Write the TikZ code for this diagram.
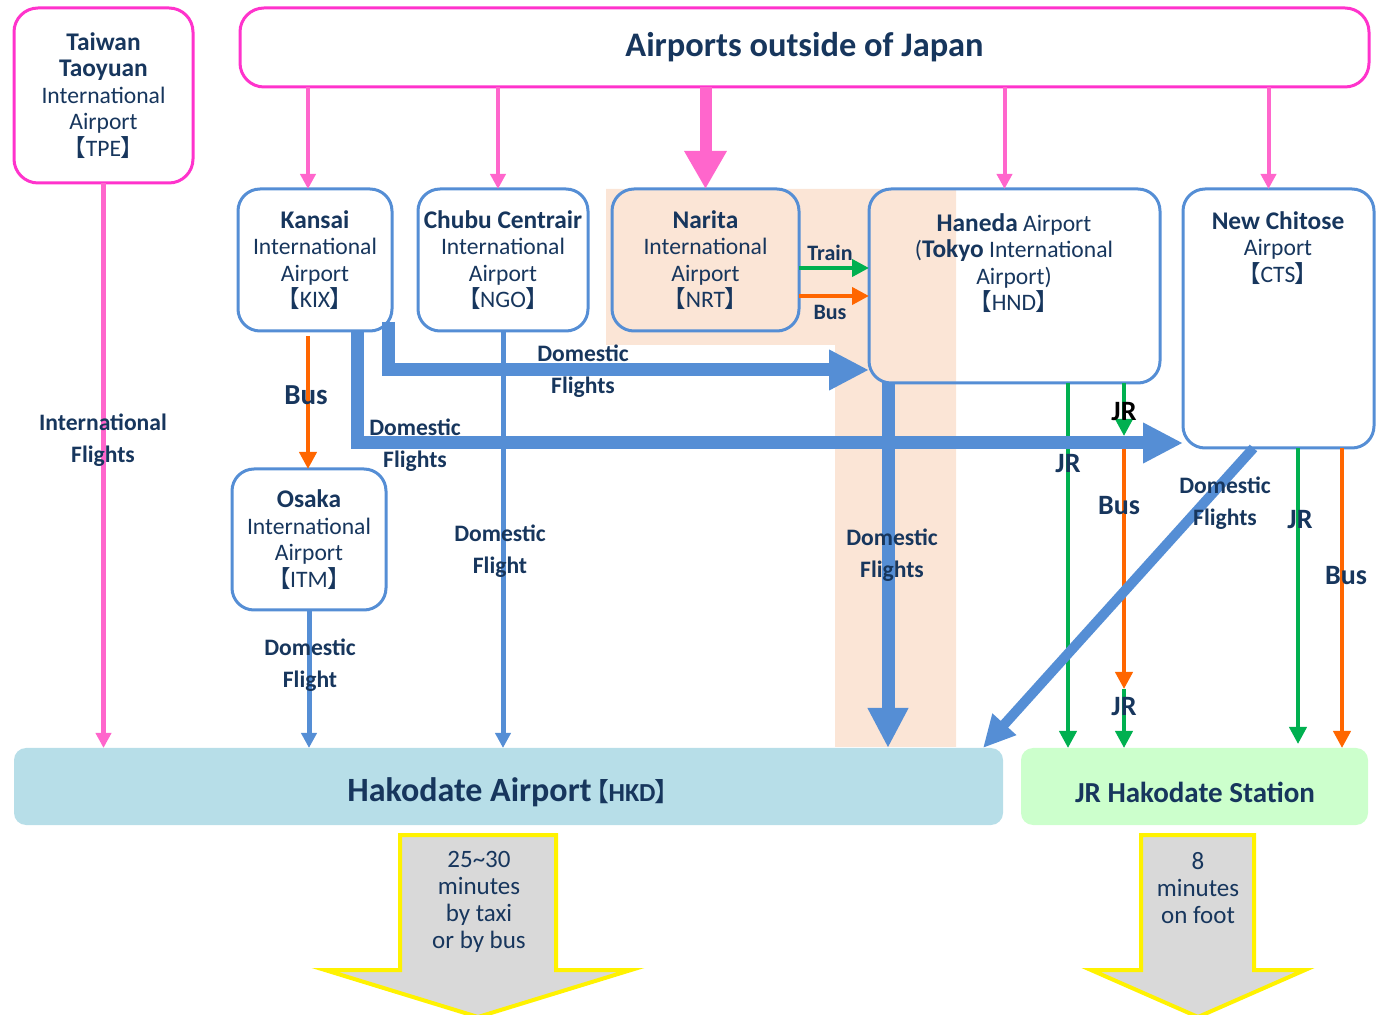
\documentclass[tikz,border=0pt]{standalone}
\usepackage{fontspec}
\setmainfont{Carlito}
\newfontfamily\cjkfont[RawFeature=+palt]{Noto Sans CJK JP}
\usetikzlibrary{arrows.meta,calc}
\definecolor{navy}{RGB}{23,54,93}
\definecolor{pinkline}{RGB}{255,51,204}
\definecolor{pinkarr}{RGB}{255,102,204}
\definecolor{bluel}{RGB}{85,142,213}
\definecolor{greenl}{RGB}{0,176,80}
\definecolor{orangel}{RGB}{255,102,0}
\definecolor{peach}{RGB}{251,229,214}
\definecolor{hkdfill}{RGB}{183,222,232}
\definecolor{jrfill}{RGB}{204,255,204}
\definecolor{grayfill}{RGB}{217,217,217}
\newcommand{\jlb}{{\cjkfont 【}}
\newcommand{\jrb}{{\cjkfont 】}}
\newcommand{\nm}[1]{{\fontsize{12.7}{13.25}\selectfont\bfseries #1}}
\newcommand{\boxfs}{\fontsize{11.8}{13.25}\selectfont}
\newcommand{\labfs}{\fontsize{11.8}{16}\selectfont\bfseries}
\newcommand{\bigfs}{\fontsize{14}{16}\selectfont\bfseries}
\begin{document}
\begin{tikzpicture}[x=0.5pt,y=-0.5pt,
 pinkbox/.style={draw=pinkline, line width=1.5pt, rounded corners=12pt, fill=white, inner sep=0pt, outer sep=0pt, align=center, text=navy, font=\boxfs},
 bluebox/.style={draw=bluel, line width=1.5pt, rounded corners=11pt, fill=white, inner sep=0pt, outer sep=0pt, align=center, text=navy, font=\boxfs},
 txt/.style={align=center, text=navy, font=\boxfs, inner sep=0pt},
 dest/.style={rounded corners=6pt, inner sep=0pt, outer sep=0pt, text=navy},
 lab/.style={text=navy, font=\labfs, align=center, inner sep=0pt},
 biglab/.style={text=navy, font=\bigfs, inner sep=0pt},
 pinkarrow/.style={draw=pinkarr, line width=2pt, -{Triangle[width=7.5pt,length=7.5pt]}},
 thinblue/.style={draw=bluel, line width=2.5pt, -{Triangle[width=7.5pt,length=7.5pt]}},
 thickblue/.style={draw=bluel, line width=6.5pt, line join=miter, -{Triangle[width=19pt,length=20pt]}},
 greenarrow/.style={draw=greenl, line width=2pt, -{Triangle[width=8.5pt,length=8.5pt]}},
 orangearrow/.style={draw=orangel, line width=2pt, -{Triangle[width=8.5pt,length=8.5pt]}},
 walk/.style={draw=yellow, fill=grayfill, line width=2pt, line join=miter},
 walktxt/.style={align=center, text=navy, font=\fontsize{12.5}{13.5}\selectfont, inner sep=0pt}
]
\useasboundingbox (0,0) rectangle (1382,1015);

% peach background
\fill[peach] (606,189) -- (956,189) -- (956,747) -- (835,747) -- (835,345) -- (606,345) -- cycle;

% boxes
\node[pinkbox, minimum width=89.5pt, minimum height=87.5pt] (tpe) at (103.5,95.5)
 {\nm{Taiwan}\\\nm{Taoyuan}\\International\\Airport\\\jlb TPE\jrb};
\node[pinkbox, minimum width=564.5pt, minimum height=39.5pt, font=\fontsize{17.2}{20}\selectfont\bfseries] (title) at (804.5,47.5)
 {\raisebox{1pt}{Airports outside of Japan}};
\node[bluebox, minimum width=77pt, minimum height=71pt] (kix) at (315,260)
 {\nm{Kansai}\\International\\Airport\\\jlb KIX\jrb};
\node[bluebox, minimum width=85pt, minimum height=71pt] (ngo) at (503,260)
 {\nm{Chubu Centrair}\\International\\Airport\\\jlb NGO\jrb};
\node[bluebox, fill=peach, minimum width=93.5pt, minimum height=71pt] (nrt) at (705.5,260)
 {\nm{Narita}\\International\\Airport\\\jlb NRT\jrb};
\node[bluebox, fill=none, minimum width=145.5pt, minimum height=97pt] (hnd) at (1014.5,286) {};
\node[txt] (hndt) at (1014,263) {\nm{Haneda} Airport\\(\nm{Tokyo} International\\Airport)\\\jlb HND\jrb};
\node[bluebox, minimum width=95.5pt, minimum height=129.5pt] (cts) at (1278.5,318.5) {};
\node[txt] (ctst) at (1278,248) {\nm{New Chitose}\\Airport\\\jlb CTS\jrb};
\node[bluebox, minimum width=77pt, minimum height=70.5pt] (itm) at (309,539.5)
 {\nm{Osaka}\\International\\Airport\\\jlb ITM\jrb};
\node[dest, fill=hkdfill, minimum width=494.5pt, minimum height=38.5pt] (hkd) at (508.5,786.5) {};
\node[inner sep=0pt, text=navy] (hkdt) at (508,792)
 {\textbf{\fontsize{17}{20}\selectfont Hakodate Airport}\hspace{2pt}{\fontsize{13}{14}\selectfont\jlb\textbf{HKD}\jrb}};
\node[dest, fill=jrfill, minimum width=173.5pt, minimum height=38.5pt] (jrs) at (1194.5,786.5) {};
\node[inner sep=0pt, text=navy, font=\fontsize{14.5}{17}\selectfont\bfseries] (jrst) at (1195,792) {JR Hakodate Station};

% coordinates
\coordinate (kixin) at ($(kix.north)+(-7,0)$);
\coordinate (ngoin) at ($(ngo.north)+(-5,0)$);
\coordinate (hndin) at ($(hnd.north)+(-10,0)$);
\coordinate (ctsin) at ($(cts.north)+(-10,0)$);
\coordinate (kixbus) at ($(kix.south)+(-7,5)$);
\coordinate (k1s) at ($(kix.south east)+(-4,-9)$);
\coordinate (k2s) at ($(kix.south)+(42,0)$);
\coordinate (hndw) at ($(hnd.south west)+(0,-13)$);
\coordinate (ctsw) at ($(cts.south west)+(0,-5)$);
\coordinate (hndd) at ($(hnd.south west)+(19,0)$);
\coordinate (ctsd) at ($(cts.south)+(-25,0)$);
\coordinate (hkdne) at ($(hkd.north east)+(-20,0)$);
\coordinate (hjr1) at ($(hnd.south)+(53.5,0)$);
\coordinate (hjr2) at ($(hnd.south)+(109.5,0)$);
\coordinate (jA) at ($(hjr2 |- ctsw)+(0,-7)$);
\coordinate (jA2) at ($(hjr2 |- ctsw)+(0,4)$);
\coordinate (jB) at (1124,689);
\coordinate (cjr) at ($(cts.south)+(19.5,0)$);
\coordinate (cbus) at ($(cts.south)+(63.5,0)$);
\coordinate (ntr) at ($(nrt.east)+(0,8)$);
\coordinate (nbs) at ($(nrt.east)+(0,36)$);

% pink arrows
\draw[pinkarrow] (title.south -| kixin) -- (kixin);
\draw[pinkarrow] (title.south -| ngoin) -- (ngoin);
\draw[pinkarrow] (title.south -| hndin) -- (hndin);
\draw[pinkarrow] (title.south -| ctsin) -- (ctsin);
\draw[draw=pinkarr, line width=6pt, -{Triangle[width=20pt,length=19pt]}] (title.south -| nrt.north) -- (nrt.north);
\draw[pinkarrow, line width=2.5pt] (tpe.south) -- (tpe.south |- hkd.north);

% bus Kansai -> Osaka
\draw[orangearrow] (kixbus) -- (kixbus |- itm.north);

% thin blue
\draw[thinblue] (itm.south) -- (itm.south |- hkd.north);
\draw[thinblue] (ngo.south) -- (ngo.south |- hkd.north);

% Narita -> Haneda
\draw[greenarrow] (ntr) -- (ntr -| hnd.west);
\draw[orangearrow] (nbs) -- (nbs -| hnd.west);

% Haneda ground
\draw[greenarrow] (hjr1) -- (hjr1 |- jrs.north);
\draw[greenarrow] (hjr2) -- (jA);
\draw[orangearrow] (jA2) -- (jB);
\draw[greenarrow] (jB) -- (jB |- jrs.north);

% New Chitose ground
\draw[greenarrow] (cjr) -- ($(cjr |- jrs.north)+(0,-4)$);
\draw[orangearrow] (cbus) -- (cbus |- jrs.north);

% thick blue
\draw[thickblue] (k1s) |- (hndw);
\draw[thickblue] (k2s) |- (ctsw);
\draw[thickblue] (hndd) -- (hndd |- hkd.north);
\draw[draw=bluel, line width=5pt, -{Triangle[width=15pt,length=16pt]}] (ctsd) -- (hkdne);

% labels
\node[lab] (lIF) at (103,440) {International\\Flights};
\node[lab, font=\fontsize{11}{13}\selectfont\bfseries] (lTr) at (830,253) {Train};
\node[lab, font=\fontsize{11}{13}\selectfont\bfseries] (lBn) at (830,312) {Bus};
\node[biglab, font=\fontsize{14.5}{16}\selectfont\bfseries] (lBk) at (306,395) {Bus};
\node[lab] (lD1) at (583,371) {Domestic\\Flights};
\node[lab] (lD2) at (415,445) {Domestic\\Flights};
\node[lab] (lD3) at (892,555) {Domestic\\Flights};
\node[lab] (lD4) at (1225,503) {Domestic\\Flights};
\node[lab] (lD5) at (500,551) {Domestic\\Flight};
\node[lab] (lD6) at (310,665) {Domestic\\Flight};
\node[biglab] (lJ1) at (1068,464) {JR};
\node[biglab, text=black] (lJ2) at (1124,412) {JR};
\node[biglab] (lB2) at (1119,506) {Bus};
\node[biglab] (lJ3) at (1124,707) {JR};
\node[biglab] (lJ4) at (1300,520) {JR};
\node[biglab] (lB3) at (1346,576) {Bus};

% walking arrows
\draw[walk] (400,835) -- (556,835) -- (556,970) -- (631,970) -- (478,1017) -- (325,970) -- (400,970) -- cycle;
\node[walktxt] (w1) at (479,902) {25\textasciitilde30\\minutes\\by taxi\\or by bus};
\draw[walk] (1141,835) -- (1254,835) -- (1254,970) -- (1305,970) -- (1198,1017) -- (1091,970) -- (1141,970) -- cycle;
\node[walktxt] (w2) at (1198,888) {8\\minutes\\on foot};
\end{tikzpicture}
\end{document}
